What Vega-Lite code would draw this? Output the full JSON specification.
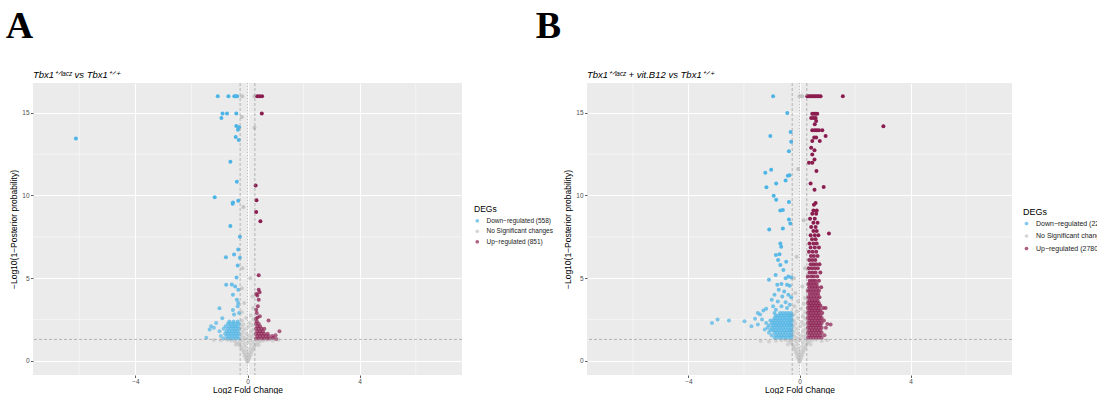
{
"$schema": "https://vega.github.io/schema/vega-lite/v6.json",
"padding": {"left": 5, "top": 8, "right": 0, "bottom": 0},
"config": {
  "view": {"fill": "#EBEBEB", "stroke": null},
  "font": "Liberation Sans",
  "axis": {"domain": false, "gridColor": "#FFFFFF", "gridWidth": 1.1, "tickColor": "#333333", "tickSize": 2.5, "tickWidth": 0.8, "labelColor": "#4D4D4D", "labelFontSize": 6.5, "labelPadding": 1.5, "titleFontSize": 8.5, "titleFontWeight": "normal", "titleColor": "#000000", "titlePadding": 3},
  "axisX": {"titlePadding": 0.5, "labelPadding": 1},
  "legend": {"titleFontSize": 8.5, "titleFontWeight": "normal", "titleColor": "#000000", "labelFontSize": 6.5, "labelColor": "#1A1A1A", "symbolSize": 14, "rowPadding": 3.5, "titlePadding": 4, "labelOffset": 6},
  "title": {"color": "#000000"}
},
"datasets": {
  "gx": [{"v": -6}, {"v": -2}, {"v": 2}, {"v": 6}],
  "gy": [{"v": 2.5}, {"v": 7.5}, {"v": 12.5}],
  "a": [
    {"lfc":0,"nlp":-0.05,"deg":"n"},{"lfc":0.01,"nlp":0,"deg":"n"},{"lfc":-0.02,"nlp":0.04,"deg":"n"},{"lfc":0.03,"nlp":0.08,"deg":"n"},{"lfc":-0.04,"nlp":0.1,"deg":"n"},{"lfc":0.05,"nlp":0.14,"deg":"n"},{"lfc":-0.06,"nlp":0.18,"deg":"n"},{"lfc":0,"nlp":0.2,"deg":"n"},{"lfc":0.07,"nlp":0.24,"deg":"n"},{"lfc":-0.08,"nlp":0.28,"deg":"n"},{"lfc":0.02,"nlp":0.3,"deg":"n"},{"lfc":0.1,"nlp":0.35,"deg":"n"},{"lfc":-0.1,"nlp":0.38,"deg":"n"},{"lfc":-0.02,"nlp":0.42,"deg":"n"},{"lfc":0.12,"nlp":0.45,"deg":"n"},{"lfc":-0.13,"nlp":0.5,"deg":"n"},{"lfc":0.05,"nlp":0.52,"deg":"n"},{"lfc":0.15,"nlp":0.58,"deg":"n"},{"lfc":-0.15,"nlp":0.6,"deg":"n"},{"lfc":-0.05,"nlp":0.65,"deg":"n"},{"lfc":0.18,"nlp":0.68,"deg":"n"},{"lfc":-0.19,"nlp":0.72,"deg":"n"},{"lfc":0.08,"nlp":0.75,"deg":"n"},{"lfc":0.21,"nlp":0.8,"deg":"n"},{"lfc":-0.22,"nlp":0.84,"deg":"n"},{"lfc":-0.08,"nlp":0.88,"deg":"n"},{"lfc":0.25,"nlp":0.9,"deg":"n"},{"lfc":-0.27,"nlp":0.94,"deg":"n"},{"lfc":0.12,"nlp":0.98,"deg":"n"},{"lfc":0.3,"nlp":1.0,"deg":"n"},{"lfc":-0.32,"nlp":1.03,"deg":"n"},{"lfc":-0.12,"nlp":1.06,"deg":"n"},{"lfc":0.36,"nlp":1.08,"deg":"n"},{"lfc":-0.38,"nlp":1.1,"deg":"n"},{"lfc":0.02,"nlp":1.12,"deg":"n"},{"lfc":0.2,"nlp":1.15,"deg":"n"},{"lfc":-0.25,"nlp":1.16,"deg":"n"},{"lfc":0.44,"nlp":1.18,"deg":"n"},{"lfc":-0.46,"nlp":1.2,"deg":"n"},{"lfc":0.55,"nlp":1.22,"deg":"n"},{"lfc":-0.58,"nlp":1.24,"deg":"n"},{"lfc":0.1,"nlp":1.25,"deg":"n"},{"lfc":-0.15,"nlp":1.27,"deg":"n"},{"lfc":0.3,"nlp":1.27,"deg":"n"},{"lfc":0.7,"nlp":1.26,"deg":"n"},{"lfc":-0.72,"nlp":1.28,"deg":"n"},{"lfc":0.9,"nlp":1.22,"deg":"n"},{"lfc":-0.95,"nlp":1.25,"deg":"n"},{"lfc":1.1,"nlp":1.28,"deg":"n"},{"lfc":-1.2,"nlp":1.27,"deg":"n"},{"lfc":0.4,"nlp":0.95,"deg":"n"},{"lfc":-0.42,"nlp":0.98,"deg":"n"},
    {"lfc":0,"nlp":1.35,"deg":"n"},{"lfc":-0.12,"nlp":1.4,"deg":"n"},{"lfc":0.15,"nlp":1.45,"deg":"n"},{"lfc":-0.2,"nlp":1.52,"deg":"n"},{"lfc":0.05,"nlp":1.55,"deg":"n"},{"lfc":0.22,"nlp":1.6,"deg":"n"},{"lfc":-0.05,"nlp":1.65,"deg":"n"},{"lfc":-0.18,"nlp":1.75,"deg":"n"},{"lfc":0.12,"nlp":1.78,"deg":"n"},{"lfc":0.2,"nlp":1.88,"deg":"n"},{"lfc":-0.1,"nlp":1.92,"deg":"n"},{"lfc":-0.22,"nlp":2.02,"deg":"n"},{"lfc":0.03,"nlp":2.05,"deg":"n"},{"lfc":0.17,"nlp":2.15,"deg":"n"},{"lfc":-0.15,"nlp":2.2,"deg":"n"},{"lfc":0.08,"nlp":2.3,"deg":"n"},{"lfc":-0.2,"nlp":2.45,"deg":"n"},{"lfc":0.21,"nlp":2.5,"deg":"n"},{"lfc":-0.05,"nlp":2.6,"deg":"n"},{"lfc":0.12,"nlp":2.75,"deg":"n"},{"lfc":-0.2,"nlp":2.95,"deg":"n"},{"lfc":0.2,"nlp":3.2,"deg":"n"},{"lfc":-0.12,"nlp":3.5,"deg":"n"},{"lfc":0.18,"nlp":3.9,"deg":"n"},{"lfc":-0.2,"nlp":4.4,"deg":"n"},{"lfc":0.1,"nlp":5.0,"deg":"n"},{"lfc":-0.18,"nlp":5.6,"deg":"n"},{"lfc":-0.15,"nlp":9.3,"deg":"n"},{"lfc":-0.2,"nlp":14.74,"deg":"n"},{"lfc":0.25,"nlp":14.1,"deg":"n"},{"lfc":0.25,"nlp":16,"deg":"n"},{"lfc":-0.19,"nlp":16,"deg":"n"},
    {"lfc":-1.06,"nlp":16,"deg":"d"},{"lfc":-0.68,"nlp":16,"deg":"d"},{"lfc":-0.47,"nlp":16,"deg":"d"},{"lfc":-0.42,"nlp":16,"deg":"d"},{"lfc":-0.37,"nlp":16,"deg":"d"},{"lfc":-0.89,"nlp":14.96,"deg":"d"},{"lfc":-0.73,"nlp":14.96,"deg":"d"},{"lfc":-0.4,"nlp":14.96,"deg":"d"},{"lfc":-0.93,"nlp":14.68,"deg":"d"},{"lfc":-0.4,"nlp":14.2,"deg":"d"},{"lfc":-0.3,"nlp":14.12,"deg":"d"},{"lfc":-0.34,"nlp":13.98,"deg":"d"},{"lfc":-0.42,"nlp":13.53,"deg":"d"},{"lfc":-0.31,"nlp":13.35,"deg":"d"},{"lfc":-6.12,"nlp":13.45,"deg":"d"},{"lfc":-0.61,"nlp":12.04,"deg":"d"},{"lfc":-0.38,"nlp":10.83,"deg":"d"},{"lfc":-1.17,"nlp":9.9,"deg":"d"},{"lfc":-0.52,"nlp":9.58,"deg":"d"},{"lfc":-0.53,"nlp":9.5,"deg":"d"},{"lfc":-0.33,"nlp":9.68,"deg":"d"},{"lfc":-0.61,"nlp":8.15,"deg":"d"},
    {"lfc":-0.27,"nlp":7.5,"deg":"d"},{"lfc":-0.33,"nlp":6.73,"deg":"d"},{"lfc":-0.48,"nlp":6.43,"deg":"d"},{"lfc":-0.77,"nlp":6.27,"deg":"d"},{"lfc":-0.27,"nlp":6.23,"deg":"d"},{"lfc":-0.35,"nlp":5.77,"deg":"d"},{"lfc":-0.39,"nlp":5.04,"deg":"d"},{"lfc":-0.76,"nlp":4.6,"deg":"d"},{"lfc":-0.56,"nlp":4.62,"deg":"d"},{"lfc":-0.44,"nlp":4.5,"deg":"d"},{"lfc":-0.33,"nlp":4.3,"deg":"d"},{"lfc":-0.52,"nlp":4.0,"deg":"d"},{"lfc":-0.38,"nlp":3.7,"deg":"d"},{"lfc":-0.33,"nlp":3.5,"deg":"d"},{"lfc":-1.0,"nlp":3.19,"deg":"d"},{"lfc":-0.52,"nlp":3.08,"deg":"d"},{"lfc":-0.48,"nlp":2.8,"deg":"d"},{"lfc":-0.9,"nlp":2.58,"deg":"d"},{"lfc":-0.35,"nlp":3.3,"deg":"d"},{"lfc":-0.3,"nlp":2.9,"deg":"d"},
    {"lfc":-1.2,"nlp":2.0,"deg":"d"},{"lfc":-1.35,"nlp":1.9,"deg":"d"},{"lfc":-1.47,"nlp":1.4,"deg":"d"},{"lfc":-1.3,"nlp":2.1,"deg":"d"},{"lfc":-1.12,"nlp":2.3,"deg":"d"},
    {"lfc":-0.3,"nlp":1.35,"deg":"d"},{"lfc":-0.4,"nlp":1.35,"deg":"d"},{"lfc":-0.5,"nlp":1.35,"deg":"d"},{"lfc":-0.6,"nlp":1.35,"deg":"d"},{"lfc":-0.7,"nlp":1.35,"deg":"d"},{"lfc":-0.85,"nlp":1.35,"deg":"d"},
    {"lfc":-0.35,"nlp":1.5,"deg":"d"},{"lfc":-0.45,"nlp":1.5,"deg":"d"},{"lfc":-0.55,"nlp":1.5,"deg":"d"},{"lfc":-0.65,"nlp":1.5,"deg":"d"},{"lfc":-0.75,"nlp":1.5,"deg":"d"},{"lfc":-0.95,"nlp":1.5,"deg":"d"},
    {"lfc":-0.3,"nlp":1.65,"deg":"d"},{"lfc":-0.4,"nlp":1.65,"deg":"d"},{"lfc":-0.5,"nlp":1.65,"deg":"d"},{"lfc":-0.6,"nlp":1.65,"deg":"d"},{"lfc":-0.7,"nlp":1.65,"deg":"d"},{"lfc":-0.8,"nlp":1.65,"deg":"d"},
    {"lfc":-0.35,"nlp":1.8,"deg":"d"},{"lfc":-0.45,"nlp":1.8,"deg":"d"},{"lfc":-0.55,"nlp":1.8,"deg":"d"},{"lfc":-0.65,"nlp":1.8,"deg":"d"},{"lfc":-0.75,"nlp":1.8,"deg":"d"},{"lfc":-1.0,"nlp":1.8,"deg":"d"},
    {"lfc":-0.3,"nlp":1.95,"deg":"d"},{"lfc":-0.4,"nlp":1.95,"deg":"d"},{"lfc":-0.5,"nlp":1.95,"deg":"d"},{"lfc":-0.6,"nlp":1.95,"deg":"d"},{"lfc":-0.7,"nlp":1.95,"deg":"d"},{"lfc":-0.85,"nlp":1.95,"deg":"d"},
    {"lfc":-0.35,"nlp":2.1,"deg":"d"},{"lfc":-0.45,"nlp":2.1,"deg":"d"},{"lfc":-0.55,"nlp":2.1,"deg":"d"},{"lfc":-0.65,"nlp":2.1,"deg":"d"},{"lfc":-0.78,"nlp":2.1,"deg":"d"},
    {"lfc":-0.3,"nlp":2.25,"deg":"d"},{"lfc":-0.4,"nlp":2.25,"deg":"d"},{"lfc":-0.5,"nlp":2.25,"deg":"d"},{"lfc":-0.6,"nlp":2.25,"deg":"d"},{"lfc":-0.7,"nlp":2.25,"deg":"d"},
    {"lfc":-0.35,"nlp":2.38,"deg":"d"},{"lfc":-0.5,"nlp":2.38,"deg":"d"},{"lfc":-0.65,"nlp":2.38,"deg":"d"},
    {"lfc":0.35,"nlp":16,"deg":"u"},{"lfc":0.43,"nlp":16,"deg":"u"},{"lfc":0.52,"nlp":16,"deg":"u"},{"lfc":0.51,"nlp":14.96,"deg":"u"},{"lfc":0.29,"nlp":10.6,"deg":"u"},{"lfc":0.32,"nlp":9.72,"deg":"u"},{"lfc":0.31,"nlp":9.0,"deg":"u"},{"lfc":0.46,"nlp":8.45,"deg":"u"},{"lfc":0.4,"nlp":5.18,"deg":"u"},{"lfc":0.4,"nlp":4.31,"deg":"u"},{"lfc":0.43,"nlp":4.15,"deg":"u"},{"lfc":0.31,"nlp":4.05,"deg":"u"},{"lfc":0.35,"nlp":3.95,"deg":"u"},{"lfc":0.4,"nlp":3.7,"deg":"u"},{"lfc":0.31,"nlp":3.1,"deg":"u"},{"lfc":0.44,"nlp":2.7,"deg":"u"},{"lfc":0.75,"nlp":2.45,"deg":"u"},{"lfc":0.33,"nlp":2.9,"deg":"u"},{"lfc":0.37,"nlp":3.3,"deg":"u"},{"lfc":0.3,"nlp":2.55,"deg":"u"},{"lfc":0.36,"nlp":2.62,"deg":"u"},{"lfc":1.14,"nlp":1.8,"deg":"u"},{"lfc":1.02,"nlp":1.32,"deg":"u"},
    {"lfc":0.3,"nlp":1.35,"deg":"u"},{"lfc":0.4,"nlp":1.35,"deg":"u"},{"lfc":0.5,"nlp":1.35,"deg":"u"},{"lfc":0.6,"nlp":1.35,"deg":"u"},{"lfc":0.7,"nlp":1.35,"deg":"u"},{"lfc":0.8,"nlp":1.35,"deg":"u"},{"lfc":0.92,"nlp":1.38,"deg":"u"},
    {"lfc":0.35,"nlp":1.5,"deg":"u"},{"lfc":0.45,"nlp":1.5,"deg":"u"},{"lfc":0.55,"nlp":1.5,"deg":"u"},{"lfc":0.65,"nlp":1.5,"deg":"u"},{"lfc":0.75,"nlp":1.5,"deg":"u"},{"lfc":0.88,"nlp":1.5,"deg":"u"},{"lfc":1.0,"nlp":1.55,"deg":"u"},
    {"lfc":0.3,"nlp":1.65,"deg":"u"},{"lfc":0.4,"nlp":1.65,"deg":"u"},{"lfc":0.5,"nlp":1.65,"deg":"u"},{"lfc":0.6,"nlp":1.65,"deg":"u"},{"lfc":0.72,"nlp":1.65,"deg":"u"},
    {"lfc":0.35,"nlp":1.8,"deg":"u"},{"lfc":0.45,"nlp":1.8,"deg":"u"},{"lfc":0.55,"nlp":1.8,"deg":"u"},
    {"lfc":0.3,"nlp":1.95,"deg":"u"},{"lfc":0.4,"nlp":1.95,"deg":"u"},{"lfc":0.5,"nlp":1.95,"deg":"u"},{"lfc":0.6,"nlp":1.95,"deg":"u"},
    {"lfc":0.35,"nlp":2.1,"deg":"u"},{"lfc":0.45,"nlp":2.1,"deg":"u"},{"lfc":0.3,"nlp":2.25,"deg":"u"},{"lfc":0.4,"nlp":2.25,"deg":"u"},{"lfc":0.33,"nlp":2.4,"deg":"u"}
  ],
  "b": [
    {"lfc":0,"nlp":-0.05,"deg":"n"},{"lfc":0.01,"nlp":0,"deg":"n"},{"lfc":-0.02,"nlp":0.05,"deg":"n"},{"lfc":0.03,"nlp":0.1,"deg":"n"},{"lfc":-0.04,"nlp":0.14,"deg":"n"},{"lfc":0.05,"nlp":0.18,"deg":"n"},{"lfc":-0.06,"nlp":0.22,"deg":"n"},{"lfc":0,"nlp":0.26,"deg":"n"},{"lfc":0.08,"nlp":0.3,"deg":"n"},{"lfc":-0.08,"nlp":0.34,"deg":"n"},{"lfc":0.02,"nlp":0.38,"deg":"n"},{"lfc":0.1,"nlp":0.42,"deg":"n"},{"lfc":-0.11,"nlp":0.46,"deg":"n"},{"lfc":-0.02,"nlp":0.5,"deg":"n"},{"lfc":0.13,"nlp":0.54,"deg":"n"},{"lfc":-0.14,"nlp":0.58,"deg":"n"},{"lfc":0.05,"nlp":0.62,"deg":"n"},{"lfc":0.16,"nlp":0.66,"deg":"n"},{"lfc":-0.17,"nlp":0.7,"deg":"n"},{"lfc":-0.05,"nlp":0.74,"deg":"n"},{"lfc":0.19,"nlp":0.78,"deg":"n"},{"lfc":-0.2,"nlp":0.82,"deg":"n"},{"lfc":0.08,"nlp":0.86,"deg":"n"},{"lfc":0.22,"nlp":0.9,"deg":"n"},{"lfc":-0.23,"nlp":0.94,"deg":"n"},{"lfc":-0.08,"nlp":0.98,"deg":"n"},{"lfc":0.26,"nlp":1.02,"deg":"n"},{"lfc":-0.28,"nlp":1.05,"deg":"n"},{"lfc":0.12,"nlp":1.08,"deg":"n"},{"lfc":0.3,"nlp":1.12,"deg":"n"},{"lfc":-0.32,"nlp":1.15,"deg":"n"},{"lfc":-0.12,"nlp":1.18,"deg":"n"},{"lfc":0.35,"nlp":1.2,"deg":"n"},{"lfc":-0.38,"nlp":1.22,"deg":"n"},{"lfc":0.02,"nlp":1.25,"deg":"n"},{"lfc":0.2,"nlp":1.26,"deg":"n"},{"lfc":-0.25,"nlp":1.27,"deg":"n"},{"lfc":0.45,"nlp":1.24,"deg":"n"},{"lfc":-0.5,"nlp":1.26,"deg":"n"},{"lfc":0.6,"nlp":1.28,"deg":"n"},{"lfc":-0.65,"nlp":1.25,"deg":"n"},{"lfc":0.8,"nlp":1.2,"deg":"n"},{"lfc":-0.85,"nlp":1.22,"deg":"n"},{"lfc":-1.1,"nlp":1.18,"deg":"n"},{"lfc":1.0,"nlp":1.25,"deg":"n"},{"lfc":-1.4,"nlp":1.2,"deg":"n"},{"lfc":0.4,"nlp":1.0,"deg":"n"},{"lfc":-0.42,"nlp":1.0,"deg":"n"},
    {"lfc":0,"nlp":1.35,"deg":"n"},{"lfc":-0.12,"nlp":1.4,"deg":"n"},{"lfc":0.15,"nlp":1.45,"deg":"n"},{"lfc":-0.2,"nlp":1.5,"deg":"n"},{"lfc":0.05,"nlp":1.55,"deg":"n"},{"lfc":0.22,"nlp":1.6,"deg":"n"},{"lfc":-0.06,"nlp":1.68,"deg":"n"},{"lfc":-0.2,"nlp":1.75,"deg":"n"},{"lfc":0.12,"nlp":1.8,"deg":"n"},{"lfc":0.2,"nlp":1.9,"deg":"n"},{"lfc":-0.1,"nlp":1.95,"deg":"n"},{"lfc":-0.22,"nlp":2.05,"deg":"n"},{"lfc":0.03,"nlp":2.1,"deg":"n"},{"lfc":0.17,"nlp":2.2,"deg":"n"},{"lfc":-0.15,"nlp":2.25,"deg":"n"},{"lfc":0.08,"nlp":2.35,"deg":"n"},{"lfc":-0.2,"nlp":2.45,"deg":"n"},{"lfc":0.21,"nlp":2.55,"deg":"n"},{"lfc":-0.05,"nlp":2.6,"deg":"n"},{"lfc":0.12,"nlp":2.7,"deg":"n"},{"lfc":-0.2,"nlp":2.8,"deg":"n"},{"lfc":0.2,"nlp":2.95,"deg":"n"},{"lfc":-0.1,"nlp":3.0,"deg":"n"},{"lfc":0.05,"nlp":3.15,"deg":"n"},{"lfc":-0.18,"nlp":3.3,"deg":"n"},{"lfc":0.15,"nlp":3.45,"deg":"n"},{"lfc":-0.05,"nlp":3.6,"deg":"n"},{"lfc":0.2,"nlp":3.8,"deg":"n"},{"lfc":-0.15,"nlp":4.1,"deg":"n"},{"lfc":0.1,"nlp":4.5,"deg":"n"},{"lfc":-0.2,"nlp":5.0,"deg":"n"},{"lfc":0.2,"nlp":5.6,"deg":"n"},{"lfc":-0.1,"nlp":6.3,"deg":"n"},{"lfc":0.15,"nlp":8.5,"deg":"n"},{"lfc":-0.05,"nlp":11.6,"deg":"n"},{"lfc":0,"nlp":16,"deg":"n"},{"lfc":0.05,"nlp":16,"deg":"n"},{"lfc":0.1,"nlp":16,"deg":"n"},
    {"lfc":-0.95,"nlp":16,"deg":"d"},{"lfc":-0.44,"nlp":14.98,"deg":"d"},{"lfc":-0.32,"nlp":13.84,"deg":"d"},{"lfc":-1.05,"nlp":13.6,"deg":"d"},{"lfc":-0.3,"nlp":13.25,"deg":"d"},{"lfc":-0.38,"nlp":12.68,"deg":"d"},{"lfc":-1.02,"nlp":11.56,"deg":"d"},{"lfc":-1.23,"nlp":11.38,"deg":"d"},{"lfc":-0.36,"nlp":11.22,"deg":"d"},{"lfc":-0.42,"nlp":11.2,"deg":"d"},{"lfc":-0.5,"nlp":10.9,"deg":"d"},{"lfc":-0.84,"nlp":10.73,"deg":"d"},{"lfc":-1.19,"nlp":10.5,"deg":"d"},{"lfc":-0.93,"nlp":9.98,"deg":"d"},{"lfc":-0.84,"nlp":9.74,"deg":"d"},{"lfc":-0.38,"nlp":9.6,"deg":"d"},{"lfc":-0.69,"nlp":9.1,"deg":"d"},{"lfc":-0.6,"nlp":9.12,"deg":"d"},{"lfc":-0.38,"nlp":8.55,"deg":"d"},{"lfc":-0.33,"nlp":8.3,"deg":"d"},{"lfc":-0.6,"nlp":8.0,"deg":"d"},{"lfc":-1.09,"nlp":7.94,"deg":"d"},{"lfc":-0.69,"nlp":7.1,"deg":"d"},{"lfc":-0.66,"nlp":6.9,"deg":"d"},{"lfc":-0.85,"nlp":6.4,"deg":"d"},{"lfc":-0.72,"nlp":6.45,"deg":"d"},{"lfc":-0.77,"nlp":6.1,"deg":"d"},{"lfc":-0.48,"nlp":6.0,"deg":"d"},{"lfc":-0.69,"nlp":5.8,"deg":"d"},{"lfc":-0.58,"nlp":5.5,"deg":"d"},{"lfc":-0.86,"nlp":5.2,"deg":"d"},{"lfc":-0.4,"nlp":5.1,"deg":"d"},{"lfc":-0.5,"nlp":5.0,"deg":"d"},{"lfc":-0.3,"nlp":5.05,"deg":"d"},{"lfc":-1.1,"nlp":4.9,"deg":"d"},{"lfc":-0.8,"nlp":4.6,"deg":"d"},{"lfc":-0.65,"nlp":4.65,"deg":"d"},{"lfc":-0.45,"nlp":4.6,"deg":"d"},{"lfc":-0.35,"nlp":4.55,"deg":"d"},{"lfc":-0.75,"nlp":4.3,"deg":"d"},{"lfc":-0.55,"nlp":4.2,"deg":"d"},{"lfc":-0.4,"nlp":4.0,"deg":"d"},{"lfc":-0.9,"nlp":4.0,"deg":"d"},{"lfc":-0.62,"nlp":3.9,"deg":"d"},{"lfc":-0.3,"nlp":3.85,"deg":"d"},{"lfc":-1.0,"nlp":3.7,"deg":"d"},{"lfc":-0.78,"nlp":3.6,"deg":"d"},{"lfc":-0.5,"nlp":3.55,"deg":"d"},{"lfc":-0.35,"nlp":3.4,"deg":"d"},{"lfc":-0.95,"nlp":3.3,"deg":"d"},{"lfc":-0.65,"nlp":3.3,"deg":"d"},{"lfc":-1.2,"nlp":3.15,"deg":"d"},{"lfc":-0.45,"nlp":3.2,"deg":"d"},{"lfc":-0.85,"nlp":3.1,"deg":"d"},
    {"lfc":-3.15,"nlp":2.3,"deg":"d"},{"lfc":-2.95,"nlp":2.5,"deg":"d"},{"lfc":-2.54,"nlp":2.45,"deg":"d"},{"lfc":-1.98,"nlp":2.4,"deg":"d"},{"lfc":-1.73,"nlp":2.1,"deg":"d"},{"lfc":-1.5,"nlp":2.9,"deg":"d"},{"lfc":-1.42,"nlp":2.8,"deg":"d"},{"lfc":-1.6,"nlp":2.55,"deg":"d"},{"lfc":-1.3,"nlp":3.05,"deg":"d"},{"lfc":-1.35,"nlp":2.5,"deg":"d"},{"lfc":-1.5,"nlp":2.2,"deg":"d"},{"lfc":-1.25,"nlp":1.9,"deg":"d"},
    {"lfc":-0.9,"nlp":1.4,"deg":"d"},{"lfc":-0.8,"nlp":1.4,"deg":"d"},{"lfc":-0.7,"nlp":1.4,"deg":"d"},{"lfc":-0.6,"nlp":1.4,"deg":"d"},{"lfc":-0.5,"nlp":1.4,"deg":"d"},{"lfc":-0.4,"nlp":1.4,"deg":"d"},{"lfc":-0.3,"nlp":1.4,"deg":"d"},
    {"lfc":-1.0,"nlp":1.55,"deg":"d"},{"lfc":-0.85,"nlp":1.55,"deg":"d"},{"lfc":-0.75,"nlp":1.55,"deg":"d"},{"lfc":-0.65,"nlp":1.55,"deg":"d"},{"lfc":-0.55,"nlp":1.55,"deg":"d"},{"lfc":-0.45,"nlp":1.55,"deg":"d"},{"lfc":-0.35,"nlp":1.55,"deg":"d"},{"lfc":-0.28,"nlp":1.55,"deg":"d"},
    {"lfc":-1.1,"nlp":1.7,"deg":"d"},{"lfc":-0.9,"nlp":1.7,"deg":"d"},{"lfc":-0.8,"nlp":1.7,"deg":"d"},{"lfc":-0.7,"nlp":1.7,"deg":"d"},{"lfc":-0.6,"nlp":1.7,"deg":"d"},{"lfc":-0.5,"nlp":1.7,"deg":"d"},{"lfc":-0.4,"nlp":1.7,"deg":"d"},{"lfc":-0.3,"nlp":1.7,"deg":"d"},
    {"lfc":-1.05,"nlp":1.85,"deg":"d"},{"lfc":-0.95,"nlp":1.85,"deg":"d"},{"lfc":-0.85,"nlp":1.85,"deg":"d"},{"lfc":-0.75,"nlp":1.85,"deg":"d"},{"lfc":-0.65,"nlp":1.85,"deg":"d"},{"lfc":-0.55,"nlp":1.85,"deg":"d"},{"lfc":-0.45,"nlp":1.85,"deg":"d"},{"lfc":-0.35,"nlp":1.85,"deg":"d"},{"lfc":-0.28,"nlp":1.85,"deg":"d"},
    {"lfc":-1.15,"nlp":2.0,"deg":"d"},{"lfc":-1.0,"nlp":2.0,"deg":"d"},{"lfc":-0.9,"nlp":2.0,"deg":"d"},{"lfc":-0.8,"nlp":2.0,"deg":"d"},{"lfc":-0.7,"nlp":2.0,"deg":"d"},{"lfc":-0.6,"nlp":2.0,"deg":"d"},{"lfc":-0.5,"nlp":2.0,"deg":"d"},{"lfc":-0.4,"nlp":2.0,"deg":"d"},{"lfc":-0.3,"nlp":2.0,"deg":"d"},
    {"lfc":-1.1,"nlp":2.15,"deg":"d"},{"lfc":-0.95,"nlp":2.15,"deg":"d"},{"lfc":-0.85,"nlp":2.15,"deg":"d"},{"lfc":-0.75,"nlp":2.15,"deg":"d"},{"lfc":-0.65,"nlp":2.15,"deg":"d"},{"lfc":-0.55,"nlp":2.15,"deg":"d"},{"lfc":-0.45,"nlp":2.15,"deg":"d"},{"lfc":-0.35,"nlp":2.15,"deg":"d"},{"lfc":-0.28,"nlp":2.15,"deg":"d"},
    {"lfc":-1.2,"nlp":2.3,"deg":"d"},{"lfc":-1.0,"nlp":2.3,"deg":"d"},{"lfc":-0.9,"nlp":2.3,"deg":"d"},{"lfc":-0.8,"nlp":2.3,"deg":"d"},{"lfc":-0.7,"nlp":2.3,"deg":"d"},{"lfc":-0.6,"nlp":2.3,"deg":"d"},{"lfc":-0.5,"nlp":2.3,"deg":"d"},{"lfc":-0.4,"nlp":2.3,"deg":"d"},{"lfc":-0.3,"nlp":2.3,"deg":"d"},
    {"lfc":-1.05,"nlp":2.45,"deg":"d"},{"lfc":-0.95,"nlp":2.45,"deg":"d"},{"lfc":-0.85,"nlp":2.45,"deg":"d"},{"lfc":-0.75,"nlp":2.45,"deg":"d"},{"lfc":-0.65,"nlp":2.45,"deg":"d"},{"lfc":-0.55,"nlp":2.45,"deg":"d"},{"lfc":-0.45,"nlp":2.45,"deg":"d"},{"lfc":-0.35,"nlp":2.45,"deg":"d"},{"lfc":-0.28,"nlp":2.45,"deg":"d"},
    {"lfc":-0.9,"nlp":2.6,"deg":"d"},{"lfc":-0.8,"nlp":2.6,"deg":"d"},{"lfc":-0.7,"nlp":2.6,"deg":"d"},{"lfc":-0.6,"nlp":2.6,"deg":"d"},{"lfc":-0.5,"nlp":2.6,"deg":"d"},{"lfc":-0.4,"nlp":2.6,"deg":"d"},{"lfc":-0.3,"nlp":2.6,"deg":"d"},
    {"lfc":-0.85,"nlp":2.75,"deg":"d"},{"lfc":-0.75,"nlp":2.75,"deg":"d"},{"lfc":-0.65,"nlp":2.75,"deg":"d"},{"lfc":-0.55,"nlp":2.75,"deg":"d"},{"lfc":-0.45,"nlp":2.75,"deg":"d"},{"lfc":-0.35,"nlp":2.75,"deg":"d"},{"lfc":-0.28,"nlp":2.75,"deg":"d"},
    {"lfc":-0.9,"nlp":2.9,"deg":"d"},{"lfc":-0.7,"nlp":2.9,"deg":"d"},{"lfc":-0.6,"nlp":2.9,"deg":"d"},{"lfc":-0.5,"nlp":2.9,"deg":"d"},{"lfc":-0.4,"nlp":2.9,"deg":"d"},{"lfc":-0.3,"nlp":2.9,"deg":"d"},
    {"lfc":0.3,"nlp":1.4,"deg":"u"},{"lfc":0.4,"nlp":1.4,"deg":"u"},{"lfc":0.5,"nlp":1.4,"deg":"u"},{"lfc":0.6,"nlp":1.4,"deg":"u"},{"lfc":0.7,"nlp":1.4,"deg":"u"},{"lfc":0.8,"nlp":1.4,"deg":"u"},
    {"lfc":0.35,"nlp":1.55,"deg":"u"},{"lfc":0.45,"nlp":1.55,"deg":"u"},{"lfc":0.55,"nlp":1.55,"deg":"u"},{"lfc":0.65,"nlp":1.55,"deg":"u"},{"lfc":0.75,"nlp":1.55,"deg":"u"},{"lfc":0.9,"nlp":1.55,"deg":"u"},
    {"lfc":0.3,"nlp":1.7,"deg":"u"},{"lfc":0.4,"nlp":1.7,"deg":"u"},{"lfc":0.5,"nlp":1.7,"deg":"u"},{"lfc":0.6,"nlp":1.7,"deg":"u"},{"lfc":0.7,"nlp":1.7,"deg":"u"},{"lfc":0.8,"nlp":1.7,"deg":"u"},
    {"lfc":0.35,"nlp":1.85,"deg":"u"},{"lfc":0.45,"nlp":1.85,"deg":"u"},{"lfc":0.55,"nlp":1.85,"deg":"u"},{"lfc":0.65,"nlp":1.85,"deg":"u"},{"lfc":0.75,"nlp":1.85,"deg":"u"},
    {"lfc":0.3,"nlp":2.0,"deg":"u"},{"lfc":0.4,"nlp":2.0,"deg":"u"},{"lfc":0.5,"nlp":2.0,"deg":"u"},{"lfc":0.6,"nlp":2.0,"deg":"u"},{"lfc":0.7,"nlp":2.0,"deg":"u"},{"lfc":0.8,"nlp":2.0,"deg":"u"},{"lfc":0.95,"nlp":2.0,"deg":"u"},
    {"lfc":0.35,"nlp":2.15,"deg":"u"},{"lfc":0.45,"nlp":2.15,"deg":"u"},{"lfc":0.55,"nlp":2.15,"deg":"u"},{"lfc":0.65,"nlp":2.15,"deg":"u"},{"lfc":0.75,"nlp":2.15,"deg":"u"},
    {"lfc":0.3,"nlp":2.3,"deg":"u"},{"lfc":0.4,"nlp":2.3,"deg":"u"},{"lfc":0.5,"nlp":2.3,"deg":"u"},{"lfc":0.6,"nlp":2.3,"deg":"u"},{"lfc":0.7,"nlp":2.3,"deg":"u"},{"lfc":0.8,"nlp":2.3,"deg":"u"},
    {"lfc":0.35,"nlp":2.45,"deg":"u"},{"lfc":0.45,"nlp":2.45,"deg":"u"},{"lfc":0.55,"nlp":2.45,"deg":"u"},{"lfc":0.65,"nlp":2.45,"deg":"u"},{"lfc":0.75,"nlp":2.45,"deg":"u"},{"lfc":0.88,"nlp":2.45,"deg":"u"},
    {"lfc":0.3,"nlp":2.6,"deg":"u"},{"lfc":0.4,"nlp":2.6,"deg":"u"},{"lfc":0.5,"nlp":2.6,"deg":"u"},{"lfc":0.6,"nlp":2.6,"deg":"u"},{"lfc":0.7,"nlp":2.6,"deg":"u"},{"lfc":0.8,"nlp":2.6,"deg":"u"},
    {"lfc":0.35,"nlp":2.75,"deg":"u"},{"lfc":0.45,"nlp":2.75,"deg":"u"},{"lfc":0.55,"nlp":2.75,"deg":"u"},{"lfc":0.65,"nlp":2.75,"deg":"u"},{"lfc":0.75,"nlp":2.75,"deg":"u"},
    {"lfc":0.3,"nlp":2.9,"deg":"u"},{"lfc":0.4,"nlp":2.9,"deg":"u"},{"lfc":0.5,"nlp":2.9,"deg":"u"},{"lfc":0.6,"nlp":2.9,"deg":"u"},{"lfc":0.7,"nlp":2.9,"deg":"u"},{"lfc":0.82,"nlp":2.9,"deg":"u"},
    {"lfc":0.35,"nlp":3.05,"deg":"u"},{"lfc":0.45,"nlp":3.05,"deg":"u"},{"lfc":0.55,"nlp":3.05,"deg":"u"},{"lfc":0.65,"nlp":3.05,"deg":"u"},{"lfc":0.75,"nlp":3.05,"deg":"u"},
    {"lfc":0.3,"nlp":3.2,"deg":"u"},{"lfc":0.4,"nlp":3.2,"deg":"u"},{"lfc":0.5,"nlp":3.2,"deg":"u"},{"lfc":0.6,"nlp":3.2,"deg":"u"},{"lfc":0.7,"nlp":3.2,"deg":"u"},{"lfc":0.85,"nlp":3.2,"deg":"u"},
    {"lfc":0.35,"nlp":3.35,"deg":"u"},{"lfc":0.45,"nlp":3.35,"deg":"u"},{"lfc":0.55,"nlp":3.35,"deg":"u"},{"lfc":0.65,"nlp":3.35,"deg":"u"},{"lfc":0.75,"nlp":3.35,"deg":"u"},
    {"lfc":0.3,"nlp":3.5,"deg":"u"},{"lfc":0.4,"nlp":3.5,"deg":"u"},{"lfc":0.5,"nlp":3.5,"deg":"u"},{"lfc":0.6,"nlp":3.5,"deg":"u"},{"lfc":0.7,"nlp":3.5,"deg":"u"},
    {"lfc":0.35,"nlp":3.65,"deg":"u"},{"lfc":0.45,"nlp":3.65,"deg":"u"},{"lfc":0.55,"nlp":3.65,"deg":"u"},{"lfc":0.65,"nlp":3.65,"deg":"u"},
    {"lfc":1.0,"nlp":2.24,"deg":"u"},{"lfc":1.12,"nlp":2.2,"deg":"u"},{"lfc":0.94,"nlp":3.2,"deg":"u"},
    {"lfc":0.32,"nlp":3.85,"deg":"u"},{"lfc":0.42,"nlp":3.85,"deg":"u"},{"lfc":0.52,"nlp":3.85,"deg":"u"},{"lfc":0.62,"nlp":3.85,"deg":"u"},{"lfc":0.72,"nlp":3.85,"deg":"u"},
    {"lfc":0.37,"nlp":4.05,"deg":"u"},{"lfc":0.47,"nlp":4.05,"deg":"u"},{"lfc":0.57,"nlp":4.05,"deg":"u"},{"lfc":0.67,"nlp":4.05,"deg":"u"},
    {"lfc":0.3,"nlp":4.25,"deg":"u"},{"lfc":0.4,"nlp":4.25,"deg":"u"},{"lfc":0.5,"nlp":4.25,"deg":"u"},{"lfc":0.6,"nlp":4.25,"deg":"u"},{"lfc":0.7,"nlp":4.25,"deg":"u"},
    {"lfc":0.35,"nlp":4.45,"deg":"u"},{"lfc":0.45,"nlp":4.45,"deg":"u"},{"lfc":0.55,"nlp":4.45,"deg":"u"},{"lfc":0.65,"nlp":4.45,"deg":"u"},{"lfc":0.78,"nlp":4.45,"deg":"u"},
    {"lfc":0.32,"nlp":4.65,"deg":"u"},{"lfc":0.42,"nlp":4.65,"deg":"u"},{"lfc":0.52,"nlp":4.65,"deg":"u"},{"lfc":0.62,"nlp":4.65,"deg":"u"},
    {"lfc":0.37,"nlp":4.85,"deg":"u"},{"lfc":0.47,"nlp":4.85,"deg":"u"},{"lfc":0.57,"nlp":4.85,"deg":"u"},{"lfc":0.7,"nlp":4.85,"deg":"u"},
    {"lfc":0.3,"nlp":5.1,"deg":"u"},{"lfc":0.42,"nlp":5.1,"deg":"u"},{"lfc":0.52,"nlp":5.1,"deg":"u"},{"lfc":0.64,"nlp":5.1,"deg":"u"},
    {"lfc":0.36,"nlp":5.35,"deg":"u"},{"lfc":0.47,"nlp":5.35,"deg":"u"},{"lfc":0.58,"nlp":5.35,"deg":"u"},{"lfc":0.75,"nlp":5.35,"deg":"u"},
    {"lfc":0.33,"nlp":5.6,"deg":"u"},{"lfc":0.44,"nlp":5.6,"deg":"u"},{"lfc":0.55,"nlp":5.6,"deg":"u"},{"lfc":0.66,"nlp":5.6,"deg":"u"},
    {"lfc":0.4,"nlp":5.85,"deg":"u"},{"lfc":0.5,"nlp":5.85,"deg":"u"},{"lfc":0.6,"nlp":5.85,"deg":"u"},{"lfc":0.72,"nlp":5.85,"deg":"u"},
    {"lfc":0.35,"nlp":6.1,"deg":"u"},{"lfc":0.46,"nlp":6.1,"deg":"u"},{"lfc":0.57,"nlp":6.1,"deg":"u"},
    {"lfc":0.41,"nlp":6.35,"deg":"u"},{"lfc":0.52,"nlp":6.35,"deg":"u"},{"lfc":0.65,"nlp":6.35,"deg":"u"},
    {"lfc":0.34,"nlp":6.6,"deg":"u"},{"lfc":0.47,"nlp":6.6,"deg":"u"},{"lfc":0.6,"nlp":6.6,"deg":"u"},
    {"lfc":0.4,"nlp":6.85,"deg":"u"},{"lfc":0.55,"nlp":6.85,"deg":"u"},{"lfc":0.7,"nlp":6.85,"deg":"u"},
    {"lfc":0.36,"nlp":7.1,"deg":"u"},{"lfc":0.5,"nlp":7.1,"deg":"u"},{"lfc":0.62,"nlp":7.1,"deg":"u"},
    {"lfc":0.45,"nlp":7.35,"deg":"u"},{"lfc":0.58,"nlp":7.35,"deg":"u"},
    {"lfc":0.4,"nlp":7.6,"deg":"u"},{"lfc":0.55,"nlp":7.6,"deg":"u"},{"lfc":0.68,"nlp":7.6,"deg":"u"},{"lfc":1.06,"nlp":7.7,"deg":"u"},
    {"lfc":0.5,"nlp":7.85,"deg":"u"},{"lfc":0.62,"nlp":7.85,"deg":"u"},{"lfc":0.42,"nlp":8.1,"deg":"u"},{"lfc":0.58,"nlp":8.1,"deg":"u"},{"lfc":0.5,"nlp":8.35,"deg":"u"},{"lfc":0.65,"nlp":8.35,"deg":"u"},{"lfc":0.38,"nlp":8.6,"deg":"u"},{"lfc":0.55,"nlp":8.6,"deg":"u"},{"lfc":0.46,"nlp":8.9,"deg":"u"},{"lfc":0.6,"nlp":8.9,"deg":"u"},{"lfc":0.5,"nlp":9.1,"deg":"u"},{"lfc":0.62,"nlp":9.1,"deg":"u"},{"lfc":0.52,"nlp":9.44,"deg":"u"},{"lfc":0.58,"nlp":9.54,"deg":"u"},
    {"lfc":0.54,"nlp":10.34,"deg":"u"},{"lfc":0.87,"nlp":10.52,"deg":"u"},{"lfc":0.4,"nlp":10.72,"deg":"u"},{"lfc":0.61,"nlp":11.48,"deg":"u"},{"lfc":0.34,"nlp":11.98,"deg":"u"},{"lfc":0.46,"nlp":11.98,"deg":"u"},{"lfc":0.54,"nlp":12.18,"deg":"u"},{"lfc":0.46,"nlp":12.48,"deg":"u"},{"lfc":0.54,"nlp":12.74,"deg":"u"},{"lfc":0.42,"nlp":12.88,"deg":"u"},{"lfc":0.46,"nlp":13.3,"deg":"u"},{"lfc":0.73,"nlp":13.3,"deg":"u"},{"lfc":0.53,"nlp":13.5,"deg":"u"},{"lfc":0.6,"nlp":13.5,"deg":"u"},{"lfc":0.94,"nlp":13.6,"deg":"u"},{"lfc":0.46,"nlp":13.94,"deg":"u"},{"lfc":0.55,"nlp":13.94,"deg":"u"},{"lfc":0.62,"nlp":13.94,"deg":"u"},{"lfc":0.7,"nlp":13.94,"deg":"u"},{"lfc":0.82,"nlp":13.94,"deg":"u"},{"lfc":3.02,"nlp":14.18,"deg":"u"},{"lfc":0.55,"nlp":14.3,"deg":"u"},{"lfc":0.6,"nlp":14.5,"deg":"u"},{"lfc":0.42,"nlp":14.68,"deg":"u"},{"lfc":0.5,"nlp":14.68,"deg":"u"},{"lfc":0.58,"nlp":14.68,"deg":"u"},{"lfc":0.46,"nlp":14.94,"deg":"u"},{"lfc":0.52,"nlp":14.94,"deg":"u"},{"lfc":0.58,"nlp":14.94,"deg":"u"},{"lfc":0.64,"nlp":14.94,"deg":"u"},
    {"lfc":0.28,"nlp":16,"deg":"u"},{"lfc":0.34,"nlp":16,"deg":"u"},{"lfc":0.4,"nlp":16,"deg":"u"},{"lfc":0.46,"nlp":16,"deg":"u"},{"lfc":0.52,"nlp":16,"deg":"u"},{"lfc":0.58,"nlp":16,"deg":"u"},{"lfc":0.64,"nlp":16,"deg":"u"},{"lfc":0.7,"nlp":16,"deg":"u"},{"lfc":0.76,"nlp":16,"deg":"u"},{"lfc":1.56,"nlp":16,"deg":"u"}
  ]
},
"hconcat": [
  {
    "title": {"text": "A", "font": "Liberation Serif", "fontSize": 38, "fontWeight": "bold", "anchor": "start", "frame": "bounds", "offset": 24, "dx": -4},
    "vconcat": [{
      "width": 429, "height": 292,
      "title": {"text": "Tbx1⁺ᐟˡᵃᶜᶻ vs Tbx1⁺ᐟ⁺", "fontStyle": "italic", "fontWeight": "normal", "fontSize": 9.5, "anchor": "start", "frame": "group", "offset": 3},
      "layer": [
        {"data": {"name": "gx"}, "mark": {"type": "rule", "color": "#FFFFFF", "strokeWidth": 0.5}, "encoding": {"x": {"field": "v", "type": "quantitative", "scale": {"domain": [-7.65, 7.65], "nice": false, "zero": false}}}},
        {"data": {"name": "gy"}, "mark": {"type": "rule", "color": "#FFFFFF", "strokeWidth": 0.5}, "encoding": {"y": {"field": "v", "type": "quantitative", "scale": {"domain": [-0.85, 16.8], "nice": false, "zero": false}}}},
        {"data": {"name": "a"}, "mark": {"type": "circle", "size": 16, "strokeWidth": 0},
          "encoding": {
            "x": {"field": "lfc", "type": "quantitative", "scale": {"domain": [-7.65, 7.65], "nice": false, "zero": false}, "axis": {"values": [-4, 0, 4], "title": "Log2 Fold Change"}},
            "y": {"field": "nlp", "type": "quantitative", "scale": {"domain": [-0.85, 16.8], "nice": false, "zero": false}, "axis": {"values": [0, 5, 10, 15], "title": "−Log10(1−Posterior probability)"}},
            "color": {"field": "deg", "type": "nominal", "scale": {"domain": ["d", "n", "u"], "range": ["#4DB4E6", "#C4C4C4", "#8B1C4F"]},
              "legend": {"title": "DEGs", "orient": "none", "legendX": 441, "legendY": 122, "labelExpr": "datum.value == 'd' ? 'Down−regulated (558)' : datum.value == 'n' ? 'No Significant changes' : 'Up−regulated (851)'"}},
            "opacity": {"field": "nlp", "type": "quantitative", "scale": {"domain": [1.3, 8], "range": [0.65, 1], "clamp": true}, "legend": null}
          }},
        {"data": {"values": [{"v": -0.263}, {"v": 0.263}]}, "mark": {"type": "rule", "color": "#9A9A9A", "strokeWidth": 0.7, "strokeDash": [3, 2]}, "encoding": {"x": {"field": "v", "type": "quantitative"}}},
        {"data": {"values": [{"v": 0}]}, "mark": {"type": "rule", "color": "#AAAAAA", "strokeWidth": 0.7, "strokeDash": [1, 2]}, "encoding": {"x": {"field": "v", "type": "quantitative"}}},
        {"data": {"values": [{"v": 1.301}]}, "mark": {"type": "rule", "color": "#9A9A9A", "strokeWidth": 0.7, "strokeDash": [3, 2]}, "encoding": {"y": {"field": "v", "type": "quantitative"}}}
      ]
    }]
  },
  {
    "title": {"text": "B", "font": "Liberation Serif", "fontSize": 38, "fontWeight": "bold", "anchor": "start", "frame": "bounds", "offset": 24, "dx": -28},
    "vconcat": [{
      "width": 425, "height": 292,
      "title": {"text": "Tbx1⁺ᐟˡᵃᶜᶻ + vit.B12 vs Tbx1⁺ᐟ⁺", "fontStyle": "italic", "fontWeight": "normal", "fontSize": 9.5, "anchor": "start", "frame": "group", "offset": 3},
      "layer": [
        {"data": {"name": "gx"}, "mark": {"type": "rule", "color": "#FFFFFF", "strokeWidth": 0.5}, "encoding": {"x": {"field": "v", "type": "quantitative", "scale": {"domain": [-7.65, 7.65], "nice": false, "zero": false}}}},
        {"data": {"name": "gy"}, "mark": {"type": "rule", "color": "#FFFFFF", "strokeWidth": 0.5}, "encoding": {"y": {"field": "v", "type": "quantitative", "scale": {"domain": [-0.85, 16.8], "nice": false, "zero": false}}}},
        {"data": {"name": "b"}, "mark": {"type": "circle", "size": 16, "strokeWidth": 0},
          "encoding": {
            "x": {"field": "lfc", "type": "quantitative", "scale": {"domain": [-7.65, 7.65], "nice": false, "zero": false}, "axis": {"values": [-4, 0, 4], "title": "Log2 Fold Change"}},
            "y": {"field": "nlp", "type": "quantitative", "scale": {"domain": [-0.85, 16.8], "nice": false, "zero": false}, "axis": {"values": [0, 5, 10, 15], "title": "−Log10(1−Posterior probability)"}},
            "color": {"field": "deg", "type": "nominal", "scale": {"domain": ["d", "n", "u"], "range": ["#4DB4E6", "#C4C4C4", "#8B1C4F"]},
              "legend": {"title": "DEGs", "orient": "none", "legendX": 436, "legendY": 125, "titleFontSize": 9, "labelFontSize": 7, "rowPadding": 4.5, "titlePadding": 3, "labelExpr": "datum.value == 'd' ? 'Down−regulated (2211)' : datum.value == 'n' ? 'No Significant changes' : 'Up−regulated (2780)'"}},
            "opacity": {"field": "nlp", "type": "quantitative", "scale": {"domain": [1.3, 8], "range": [0.65, 1], "clamp": true}, "legend": null}
          }},
        {"data": {"values": [{"v": -0.263}, {"v": 0.263}]}, "mark": {"type": "rule", "color": "#9A9A9A", "strokeWidth": 0.7, "strokeDash": [3, 2]}, "encoding": {"x": {"field": "v", "type": "quantitative"}}},
        {"data": {"values": [{"v": 0}]}, "mark": {"type": "rule", "color": "#AAAAAA", "strokeWidth": 0.7, "strokeDash": [1, 2]}, "encoding": {"x": {"field": "v", "type": "quantitative"}}},
        {"data": {"values": [{"v": 1.301}]}, "mark": {"type": "rule", "color": "#9A9A9A", "strokeWidth": 0.7, "strokeDash": [3, 2]}, "encoding": {"y": {"field": "v", "type": "quantitative"}}}
      ]
    }]
  }
],
"spacing": -18,
"align": "none",
"resolve": {"scale": {"color": "independent", "opacity": "independent"}, "legend": {"color": "independent"}}
}
